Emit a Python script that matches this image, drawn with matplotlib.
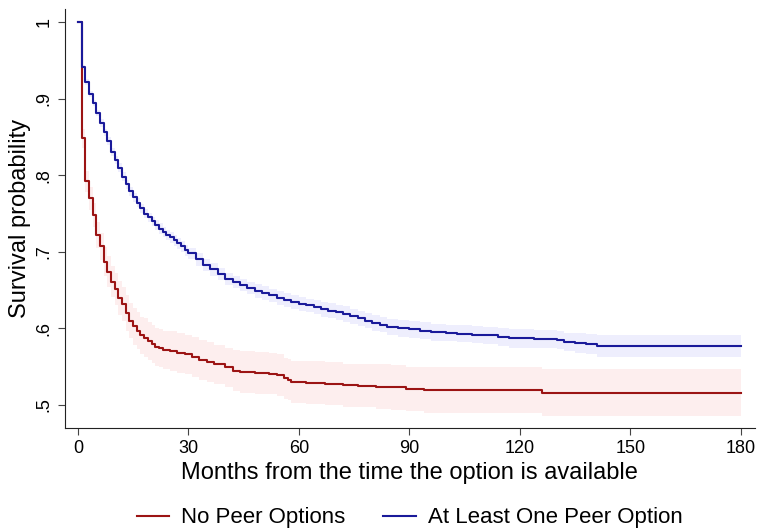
import numpy as np
import matplotlib.pyplot as plt

plt.rcParams['font.family'] = ['Liberation Sans', 'DejaVu Sans']

# Kaplan-Meier estimates (months, survival, CI half-width)
no_peer_t = [0, 1, 2, 3, 4, 5, 6, 7, 8, 9, 10, 11, 12, 13, 14, 15, 16, 17, 18, 19,
             20, 21, 22, 23, 25, 27, 29, 31, 33, 35, 37, 40, 42, 44, 48, 52, 54, 56,
             57, 58, 62, 67, 72, 76, 81, 85, 89, 94, 126, 180]
no_peer_s = [1.0, 0.848, 0.792, 0.770, 0.748, 0.722, 0.707, 0.687, 0.674, 0.661,
             0.652, 0.640, 0.632, 0.620, 0.610, 0.603, 0.597, 0.591, 0.588, 0.584,
             0.580, 0.576, 0.574, 0.572, 0.570, 0.568, 0.566, 0.563, 0.559, 0.556,
             0.553, 0.549, 0.545, 0.543, 0.542, 0.541, 0.539, 0.535, 0.533, 0.530,
             0.529, 0.528, 0.526, 0.525, 0.524, 0.523, 0.521, 0.5195, 0.516, 0.516]
no_peer_ci = [0.0, 0.012, 0.014, 0.015, 0.016, 0.017, 0.018, 0.019, 0.020, 0.020,
              0.021, 0.022, 0.022, 0.023, 0.023, 0.024, 0.024, 0.024, 0.025, 0.025,
              0.025, 0.025, 0.025, 0.025, 0.026, 0.026, 0.026, 0.026, 0.026, 0.026,
              0.026, 0.026, 0.027, 0.027, 0.027, 0.027, 0.027, 0.027, 0.027, 0.028,
              0.028, 0.028, 0.028, 0.028, 0.029, 0.029, 0.029, 0.030, 0.031, 0.031]

peer_t = [0, 1, 2, 3, 4, 5, 6, 7, 8, 9, 10, 11, 12, 13, 14, 15, 16, 17, 18, 19, 20,
          21, 22, 23, 24, 25, 26, 27, 28, 29, 30, 32, 34, 36, 38, 40, 42, 44, 46, 48,
          50, 52, 54, 56, 58, 60, 62, 64, 66, 68, 70, 72, 74, 76, 78, 80, 82, 84, 87,
          90, 93, 96, 100, 103, 107, 110, 114, 117, 124, 130, 132, 135, 138, 141, 180]
peer_s = [1.0, 0.941, 0.922, 0.906, 0.894, 0.881, 0.868, 0.856, 0.845, 0.830,
          0.820, 0.810, 0.798, 0.788, 0.779, 0.771, 0.764, 0.757, 0.750, 0.745,
          0.740, 0.735, 0.730, 0.726, 0.722, 0.719, 0.715, 0.711, 0.707, 0.702,
          0.698, 0.690, 0.683, 0.677, 0.671, 0.665, 0.661, 0.657, 0.653, 0.649,
          0.646, 0.643, 0.640, 0.637, 0.634, 0.632, 0.630, 0.628, 0.625, 0.623,
          0.621, 0.619, 0.616, 0.613, 0.610, 0.607, 0.605, 0.602, 0.600, 0.599,
          0.597, 0.595, 0.594, 0.593, 0.592, 0.591, 0.589, 0.587, 0.586, 0.585,
          0.582, 0.581, 0.580, 0.577, 0.577]
peer_ci = [0.0, 0.003, 0.004, 0.004, 0.004, 0.004, 0.005, 0.005, 0.005, 0.005,
           0.005, 0.006, 0.006, 0.006, 0.006, 0.006, 0.006, 0.006, 0.006, 0.006,
           0.006, 0.007, 0.007, 0.007, 0.007, 0.007, 0.007, 0.007, 0.007, 0.007,
           0.007, 0.008, 0.008, 0.008, 0.008, 0.008, 0.008, 0.008, 0.008, 0.009,
           0.009, 0.009, 0.009, 0.009, 0.009, 0.009, 0.009, 0.009, 0.010, 0.010,
           0.010, 0.010, 0.010, 0.010, 0.010, 0.010, 0.010, 0.010, 0.011, 0.011,
           0.011, 0.011, 0.011, 0.011, 0.011, 0.011, 0.012, 0.012, 0.012, 0.012,
           0.012, 0.013, 0.013, 0.014, 0.014]

x_ticks = [0, 30, 60, 90, 120, 150, 180]
y_ticks = [0.5, 0.6, 0.7, 0.8, 0.9, 1.0]
y_labels = ['.5', '.6', '.7', '.8', '.9', '1']

red = '#9c1414'
blue = '#1a1a9a'

fig = plt.figure(figsize=(7.6, 5.31), dpi=100)
ax = fig.add_axes([0.0855, 0.194, 0.9075, 0.789])

for t, s, ci, col, band, lab in [
        (no_peer_t, no_peer_s, no_peer_ci, red, '#fdeeee', 'No Peer Options'),
        (peer_t, peer_s, peer_ci, blue, '#eeeefd', 'At Least One Peer Option')]:
    t = np.array(t)
    s = np.array(s)
    ci = np.array(ci)
    ax.fill_between(t, s - ci, s + ci, step='post', color=band, lw=0, zorder=1)
    ax.step(t, s, where='post', color=col, lw=1.5, label=lab, zorder=3)

ax.set_xlim(-3.5, 183.8)
ax.set_ylim(0.470, 1.017)
ax.set_xticks(x_ticks)
ax.set_yticks(y_ticks)
ax.set_yticklabels(y_labels, rotation=90, va='center')
ax.tick_params(labelsize=13, length=5, width=0.8, colors='#444444', labelcolor='black',
               pad=4)
for sp in ['left', 'bottom']:
    ax.spines[sp].set_color('#222222')
ax.spines['top'].set_visible(False)
ax.spines['right'].set_visible(False)
ax.set_xlabel('Months from the time the option is available', fontsize=17, labelpad=3)
ax.set_ylabel('Survival probability', fontsize=17, labelpad=3)

# legend centred under the plot region, as Stata does
ax.legend(loc='center', bbox_to_anchor=(0.539, 0.0245), bbox_transform=fig.transFigure,
          ncol=2, frameon=False, fontsize=16, handlelength=1.45, columnspacing=1.7,
          handletextpad=0.55)

fig.savefig('out.png', dpi=100)
